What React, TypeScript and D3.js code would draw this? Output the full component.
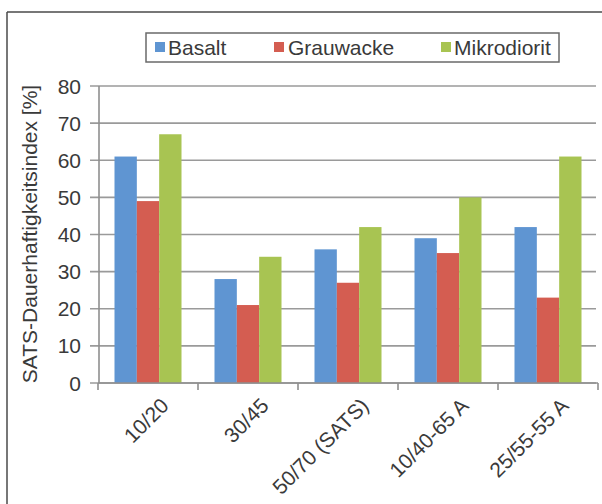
import React from "react";
import * as d3 from "d3";

const categories = ["10/20", "30/45", "50/70 (SATS)", "10/40-65 A", "25/55-55 A"];
const seriesNames = ["Basalt", "Grauwacke", "Mikrodiorit"];
const basalt = [61, 28, 36, 39, 42];
const grauwacke = [49, 21, 27, 35, 23];
const mikrodiorit = [67, 34, 42, 50, 61];
const yTicks = [0, 10, 20, 30, 40, 50, 60, 70, 80];
const colors = ["#5f95d2", "#d45d51", "#a8c452"];
const yTitle = "SATS-Dauerhaftigkeitsindex [%]";

const W = 602;
const H = 504;
const FONT = "'Liberation Sans', Arial, sans-serif";
const TEXT = "#3a3a3a";

export default function App() {
  const values = [basalt, grauwacke, mikrodiorit];
  const x0 = d3.scaleBand<string>().domain(categories).range([98, 598]).padding(0);
  const bw = x0.bandwidth();
  const x1 = d3
    .scaleBand<string>()
    .domain(seriesNames)
    .range([bw * 0.165, bw * 0.835])
    .padding(0);
  const y = d3.scaleLinear().domain([0, 80]).range([383, 86]);

  const legendItems = [
    { name: seriesNames[0], sq: 155, tx: 168 },
    { name: seriesNames[1], sq: 274, tx: 288 },
    { name: seriesNames[2], sq: 441, tx: 454 },
  ];

  return (
    <svg
      width={W}
      height={H}
      style={{ position: "absolute", left: 0, top: 0, background: "#fff" }}
      fontFamily={FONT}
    >
      <rect x={0} y={0} width={W} height={H} fill="#ffffff" />
      {/* outer frame */}
      <line x1={7} y1={12} x2={W} y2={12} stroke="#4a4a4a" strokeWidth={1.5} />
      <line x1={7} y1={12} x2={7} y2={H} stroke="#4a4a4a" strokeWidth={1.5} />

      {/* gridlines + y ticks */}
      {yTicks.map((t) => (
        <g key={t}>
          <line
            x1={90}
            x2={596}
            y1={y(t)}
            y2={y(t)}
            stroke="#9a9a9a"
            strokeWidth={1.6}
          />
          <text
            x={81}
            y={y(t)}
            dy="0.36em"
            textAnchor="end"
            fontSize={21}
            fill={TEXT}
          >
            {t}
          </text>
        </g>
      ))}

      {/* y axis */}
      <line x1={99} x2={99} y1={86} y2={383} stroke="#8f8f8f" strokeWidth={1.6} />

      {/* bars */}
      {categories.map((c, ci) => (
        <g key={c} transform={`translate(${x0(c)},0)`}>
          {seriesNames.map((s, si) => (
            <rect
              key={s}
              x={x1(s)}
              y={y(values[si][ci])}
              width={x1.bandwidth()}
              height={y(0) - y(values[si][ci])}
              fill={colors[si]}
            />
          ))}
        </g>
      ))}

      {/* x axis */}
      <line x1={98} x2={598} y1={383} y2={383} stroke="#8f8f8f" strokeWidth={1.6} />
      {[...categories.map((c) => x0(c) as number), 598].map((xv, i) => (
        <line
          key={i}
          x1={xv}
          x2={xv}
          y1={383}
          y2={390}
          stroke="#8f8f8f"
          strokeWidth={1.6}
        />
      ))}

      {/* x labels */}
      {categories.map((c) => {
        const cx = (x0(c) as number) + bw / 2;
        return (
          <text
            key={c}
            transform={`translate(${cx + 22},${407}) rotate(-45)`}
            textAnchor="end"
            fontSize={21}
            fill={TEXT}
          >
            {c}
          </text>
        );
      })}

      {/* y title */}
      <text
        transform={`translate(37,234) rotate(-90)`}
        textAnchor="middle"
        fontSize={21}
        fill={TEXT}
      >
        {yTitle}
      </text>

      {/* legend */}
      <rect x={146} y={33} width={413} height={29} fill="#fff" stroke="#6a6a6a" strokeWidth={1.5} />
      {legendItems.map((it, i) => (
        <g key={it.name}>
          <rect x={it.sq} y={42} width={10} height={10} fill={colors[i]} />
          <text x={it.tx} y={55} fontSize={21} fill={TEXT}>
            {it.name}
          </text>
        </g>
      ))}
    </svg>
  );
}
